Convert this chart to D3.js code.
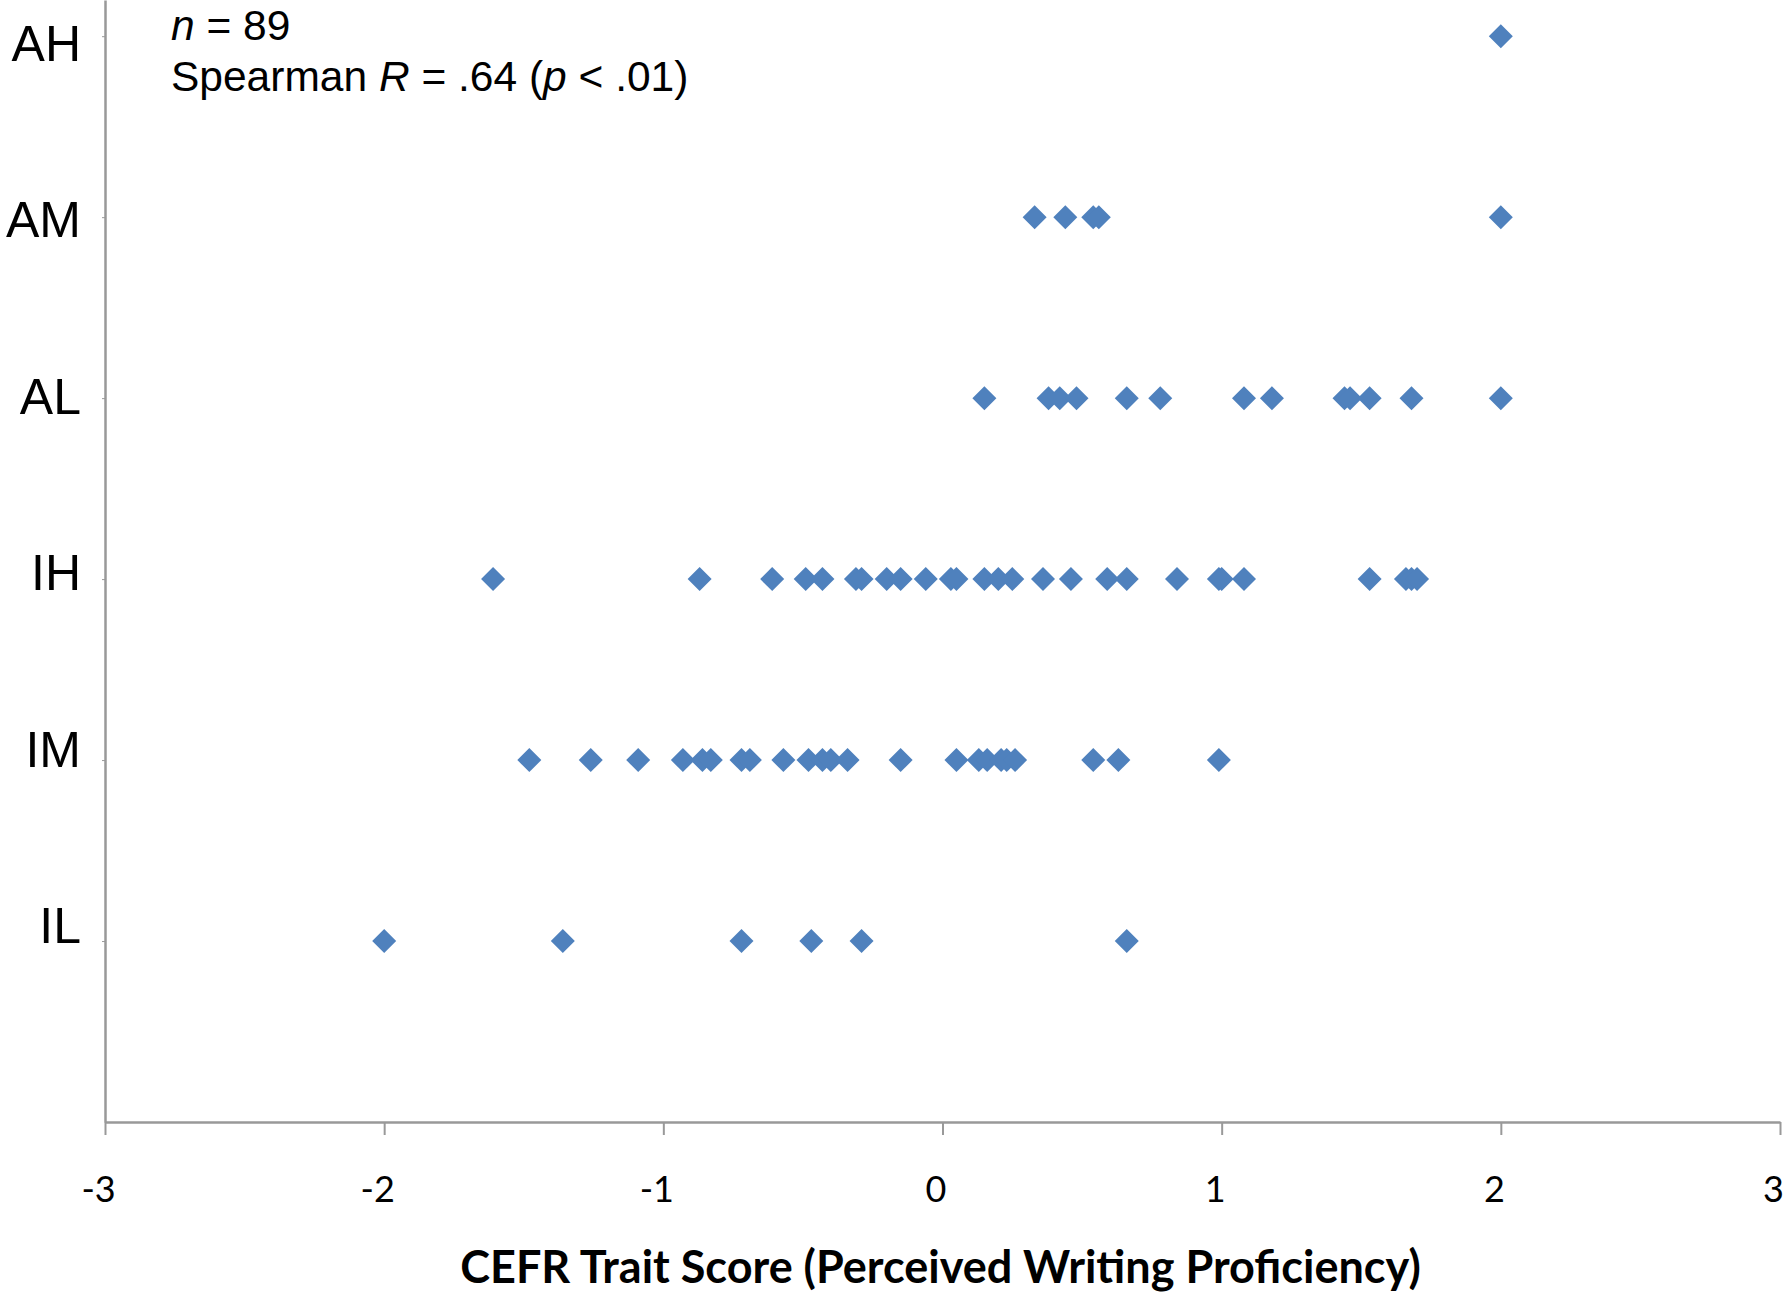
<html>
<head>
<title>CEFR trait score</title>
<script src="https://cdn.jsdelivr.net/npm/d3@7"></script>
<style>
  body { margin: 0; background: #fff; }
</style>
</head>
<body>
<div id="chart"></div>
<script>
// levels, bottom to top
var levels = ["IL", "IM", "IH", "AL", "AM", "AH"];
var xTicks = [-3, -2, -1, 0, 1, 2, 3];

// CEFR trait scores for each rated level
var scoresIL = [-2.0, -1.36, -0.72, -0.47, -0.29, 0.66];
var scoresIM = [-1.48, -1.26, -1.09, -0.93, -0.86, -0.83, -0.72, -0.69, -0.57, -0.48, -0.43, -0.40,
                -0.34, -0.15, 0.05, 0.13, 0.16, 0.21, 0.23, 0.26, 0.54, 0.63, 0.99];
var scoresIH = [-1.61, -0.87, -0.61, -0.49, -0.43, -0.31, -0.29, -0.20, -0.15, -0.06, 0.03, 0.05,
                0.15, 0.20, 0.25, 0.36, 0.46, 0.59, 0.66, 0.84, 0.99, 1.00, 1.08, 1.53, 1.66, 1.68, 1.70];
var scoresAL = [0.15, 0.38, 0.42, 0.48, 0.66, 0.78, 1.08, 1.18, 1.44, 1.46, 1.53, 1.68, 2.0];
var scoresAM = [0.33, 0.44, 0.54, 0.56, 2.0];
var scoresAH = [2.0];

var width = 1787, height = 1297;

var svg = d3.select("#chart").append("svg")
    .attr("width", width)
    .attr("height", height)
    .style("background", "#fff");

var x = d3.scaleLinear().domain([-3, 3]).range([105, 1780]);
var y = d3.scaleLinear().domain([0, 6.2]).range([1122, 0]);
// the level labels sit a little tighter than the rows of points
var yLabel = d3.scaleLinear().domain([1, 6]).range([925, 43]);

var allScores = [scoresIL, scoresIM, scoresIH, scoresAL, scoresAM, scoresAH];
var data = [];
allScores.forEach(function(arr, i) {
    arr.forEach(function(v) { data.push({ level: i + 1, score: v }); });
});

// x axis
var gx = svg.append("g")
    .attr("transform", "translate(0," + y(0) + ")")
    .call(d3.axisBottom(x).tickValues(xTicks).tickSize(13).tickSizeOuter(0)
        .tickFormat(function(d) { return String(d); }));
gx.select(".domain").attr("stroke", "#999").attr("stroke-width", 2.5);
gx.selectAll(".tick line").attr("stroke", "#999").attr("stroke-width", 2);
gx.selectAll(".tick text")
    .attr("x", -7)
    .attr("y", 67)
    .attr("dy", "0.35em")
    .attr("fill", "#000")
    .style("font-family", "Lato, sans-serif")
    .style("font-size", "36px");

// y axis
var gy = svg.append("g")
    .attr("transform", "translate(" + x(-3) + ",0)")
    .call(d3.axisLeft(y).tickValues([1, 2, 3, 4, 5, 6]).tickSize(3).tickSizeOuter(0)
        .tickFormat(""));
gy.select(".domain").attr("stroke", "#999").attr("stroke-width", 2.5);
gy.selectAll(".tick line").attr("stroke", "#999").attr("stroke-width", 1);

svg.append("g")
    .selectAll("text")
    .data(levels)
    .enter()
    .append("text")
    .attr("x", x(-3) - 24)
    .attr("y", function(d, i) { return yLabel(i + 1); })
    .attr("dy", "0.36em")
    .style("text-anchor", "end")
    .style("font-family", "'Liberation Sans', Arial, sans-serif")
    .style("font-size", "50px")
    .text(function(d) { return d; });

// x axis title
svg.append("text")
    .attr("x", (x(-3) + x(3)) / 2 - 2)
    .attr("y", 1267)
    .attr("dy", "0.35em")
    .style("text-anchor", "middle")
    .style("font-family", "Lato, sans-serif")
    .style("font-weight", "bold")
    .style("font-size", "45px")
    .text("CEFR Trait Score (Perceived Writing Proficiency)");

// annotation
var note = svg.append("text")
    .style("font-family", "'Liberation Sans', Arial, sans-serif")
    .style("font-size", "42.5px")
    .attr("fill", "#000");
var l1 = note.append("tspan").attr("x", 171).attr("y", 40);
l1.append("tspan").style("font-style", "italic").text("n");
l1.append("tspan").text(" = 89");
var l2 = note.append("tspan").attr("x", 171).attr("y", 91);
l2.append("tspan").text("Spearman ");
l2.append("tspan").style("font-style", "italic").text("R");
l2.append("tspan").text(" = .64 (");
l2.append("tspan").style("font-style", "italic").text("p");
l2.append("tspan").text(" < .01)");

// points (diamonds)
var diamond = "M0,-12L12,0L0,12L-12,0Z";
svg.append("g")
    .selectAll("path")
    .data(data)
    .enter()
    .append("path")
    .attr("d", diamond)
    .attr("transform", function(d) { return "translate(" + x(d.score) + "," + y(d.level) + ")"; })
    .attr("fill", "#4F81BD");
</script>
</body>
</html>
